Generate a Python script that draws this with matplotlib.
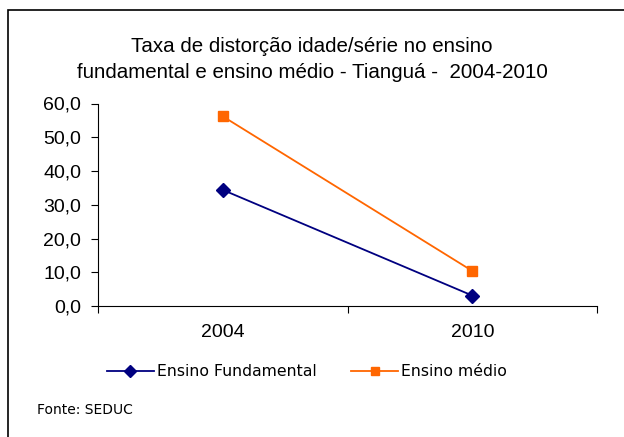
import matplotlib
matplotlib.use('Agg')
import matplotlib.pyplot as plt
from matplotlib.patches import Rectangle

anos = ['2004', '2010']
fundamental = [34.4, 3.1]
medio = [56.2, 10.4]
yticks = [0, 10, 20, 30, 40, 50, 60]

fig = plt.figure(figsize=(6.24, 4.37), dpi=100)
fig.patches.append(Rectangle((8 / 624, -0.1), 1.2, 1 - 10 / 437 + 0.1,
                             transform=fig.transFigure, fill=False,
                             edgecolor='black', linewidth=1.2))

ax = fig.add_axes([98 / 624, 1 - 306 / 437, (597 - 98) / 624, (306 - 103.5) / 437])
x = range(len(anos))
ax.plot(x, fundamental, color='#000080', marker='D', markersize=7, linewidth=1.3,
        label='Ensino Fundamental', clip_on=False)
ax.plot(x, medio, color='#FF6600', marker='s', markersize=7, linewidth=1.3,
        label='Ensino médio', clip_on=False)

ax.set_xlim(-0.5, 1.5)
ax.set_ylim(0, 60)
ax.set_xticks([-0.5, 0.5, 1.5])
ax.set_xticklabels([])
ax.set_xticks(list(x), minor=True)
ax.set_xticklabels(anos, minor=True, fontsize=14, family='Liberation Sans')
ax.tick_params(axis='x', which='minor', length=0, pad=13)
ax.tick_params(axis='x', which='major', length=5, direction='out')
ax.set_yticks(yticks)
ax.set_yticklabels([f'{v:.1f}'.replace('.', ',') for v in yticks],
                   fontsize=14, family='Liberation Sans')
ax.tick_params(axis='y', length=5, direction='out', pad=7)
for s in ['top', 'right']:
    ax.spines[s].set_visible(False)

fig.text(0.5, 1 - 47 / 437, 'Taxa de distorção idade/série no ensino',
         ha='center', va='center', fontsize=14.8, family='Liberation Sans')
fig.text(0.5, 1 - 73 / 437, 'fundamental e ensino médio - Tianguá -  2004-2010',
         ha='center', va='center', fontsize=14.8, family='Liberation Sans')

fig.legend(loc='center', bbox_to_anchor=(307 / 624, 1 - 372 / 437), ncol=2,
           frameon=False, fontsize=11.3, handlelength=3.0, columnspacing=2.2,
           handletextpad=0.2, markerscale=0.9)

fig.text(37 / 624, 1 - 410 / 437, 'Fonte: SEDUC', ha='left', va='center', fontsize=10)

fig.savefig('out.png', dpi=100)
